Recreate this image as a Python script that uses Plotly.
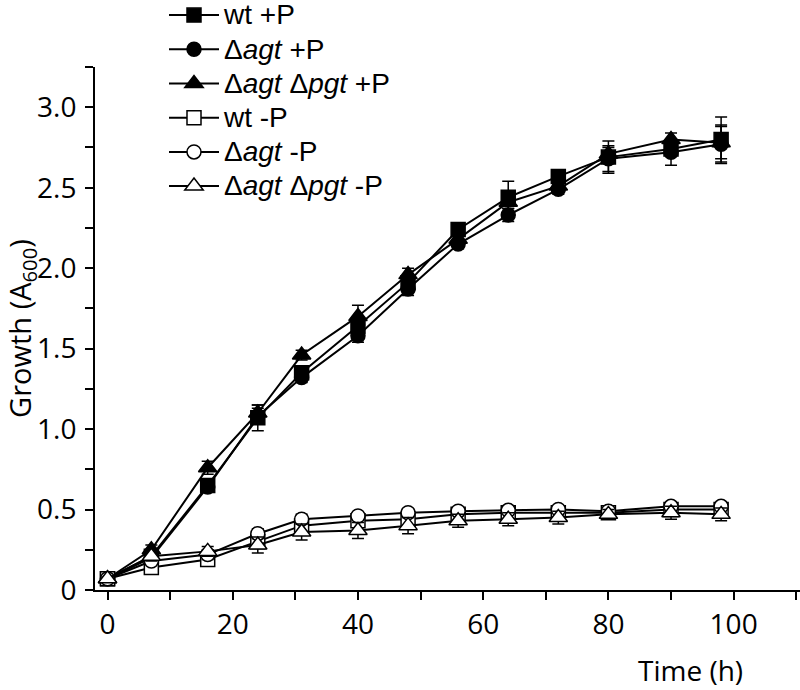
import plotly.graph_objects as go

# ---- data ----
time_h = [0, 7, 16, 24, 31, 40, 48, 56, 64, 72, 80, 90, 98]

wt_pP = [0.07, 0.21, 0.65, 1.07, 1.35, 1.64, 1.91, 2.24, 2.44, 2.57, 2.69, 2.74, 2.80]
agt_pP = [0.07, 0.20, 0.64, 1.08, 1.32, 1.58, 1.87, 2.15, 2.33, 2.49, 2.68, 2.72, 2.77]
agtpgt_pP = [0.07, 0.25, 0.76, 1.10, 1.46, 1.70, 1.96, 2.18, 2.41, 2.51, 2.71, 2.80, 2.78]
wt_mP = [0.07, 0.14, 0.19, 0.30, 0.40, 0.43, 0.44, 0.47, 0.48, 0.48, 0.48, 0.50, 0.50]
agt_mP = [0.07, 0.18, 0.22, 0.35, 0.44, 0.46, 0.48, 0.49, 0.495, 0.50, 0.49, 0.52, 0.52]
agtpgt_mP = [0.07, 0.21, 0.24, 0.28, 0.36, 0.37, 0.40, 0.43, 0.44, 0.45, 0.47, 0.48, 0.47]

err_wt_pP = [0.01, 0.02, 0.03, 0.08, 0.03, 0.04, 0.04, 0.03, 0.10, 0.03, 0.10, 0.04, 0.14]
err_agt_pP = [0.01, 0.02, 0.03, 0.05, 0.03, 0.04, 0.04, 0.03, 0.04, 0.03, 0.08, 0.08, 0.12]
err_agtpgt_pP = [0.01, 0.03, 0.04, 0.05, 0.03, 0.07, 0.04, 0.03, 0.04, 0.03, 0.04, 0.04, 0.10]
err_wt_mP = [0.01, 0.03, 0.03, 0.03, 0.03, 0.03, 0.03, 0.03, 0.03, 0.03, 0.03, 0.03, 0.03]
err_agt_mP = [0.01, 0.02, 0.03, 0.03, 0.03, 0.02, 0.02, 0.02, 0.02, 0.02, 0.02, 0.02, 0.02]
err_agtpgt_mP = [0.01, 0.03, 0.03, 0.05, 0.05, 0.05, 0.05, 0.04, 0.04, 0.04, 0.03, 0.04, 0.04]

names = ["wt +P", "Δ<i>agt</i> +P", "Δ<i>agt</i> Δ<i>pgt</i> +P",
         "wt -P", "Δ<i>agt</i> -P", "Δ<i>agt</i> Δ<i>pgt</i> -P"]
series = [wt_pP, agt_pP, agtpgt_pP, wt_mP, agt_mP, agtpgt_mP]
errors = [err_wt_pP, err_agt_pP, err_agtpgt_pP, err_wt_mP, err_agt_mP, err_agtpgt_mP]
symbols = ["square", "circle", "triangle-up", "square", "circle", "triangle-up"]
fills = ["black", "black", "black", "white", "white", "white"]

y_tickvals = [0, 0.5, 1.0, 1.5, 2.0, 2.5, 3.0]
y_ticktext = ["0", "0.5", "1.0", "1.5", "2.0", "2.5", "3.0"]
x_tickvals = [0, 20, 40, 60, 80, 100]

fig = go.Figure()
for i, (nm, ys, er, sym, fc) in enumerate(zip(names, series, errors, symbols, fills)):
    size = 16 if sym == "triangle-up" else 14
    fig.add_trace(go.Scatter(
        x=time_h, y=ys, name='<span style="font-size:28px">' + nm + '</span>',
        mode="lines+markers",
        line=dict(color="black", width=2),
        marker=dict(symbol=sym, size=size, color=fc, line=dict(color="black", width=1.5)),
        error_y=dict(type="data", array=er, visible=True, color="black", thickness=1.5, width=6),
    ))

font_fam = "Open Sans, Noto Sans, sans-serif"
fig.update_layout(
    width=800, height=690,
    margin=dict(l=95, r=0, t=67, b=100, autoexpand=False),
    plot_bgcolor="white", paper_bgcolor="white",
    showlegend=True,
    legend=dict(x=(164 - 95) / 705, y=(590 + 7) / 523, xanchor="left", yanchor="top",
                itemwidth=50,
                font=dict(family="Liberation Sans, Arial, sans-serif", size=24, color="black"),
                bgcolor="rgba(0,0,0,0)"),
    xaxis=dict(range=[-2.0, 110.6], showline=True, linecolor="black", linewidth=2,
               ticks="outside", ticklen=8, tickwidth=2, tickcolor="black",
               tickvals=x_tickvals, showgrid=False, zeroline=False,
               tickfont=dict(family=font_fam, size=28, color="black"),
               minor=dict(dtick=10, tick0=0, ticks="outside", ticklen=8, tickwidth=2,
                          tickcolor="black", showgrid=False)),
    yaxis=dict(range=[0, 3.25], showline=True, linecolor="black", linewidth=2,
               ticks="outside", ticklen=8, tickwidth=2, tickcolor="black",
               tickvals=y_tickvals, ticktext=y_ticktext, showgrid=False, zeroline=False,
               tickfont=dict(family=font_fam, size=28, color="black"),
               ticklabelstandoff=3,
               title=dict(text="Growth (A<sub>600</sub>)", font=dict(family=font_fam, size=29, color="black"),
                          standoff=4),
               minor=dict(dtick=0.25, tick0=0, ticks="outside", ticklen=8, tickwidth=2,
                          tickcolor="black", showgrid=False)),
    annotations=[dict(text="Time (h)", x=(745 - 95) / 705, y=-(670 - 590) / 523, xref="paper", yref="paper",
                      xanchor="right", yanchor="middle", showarrow=False,
                      font=dict(family=font_fam, size=28, color="black"))],
)

fig.write_html("out.html", config={"displayModeBar": False},
               post_script="document.body.style.margin='0';document.body.style.padding='0';")
